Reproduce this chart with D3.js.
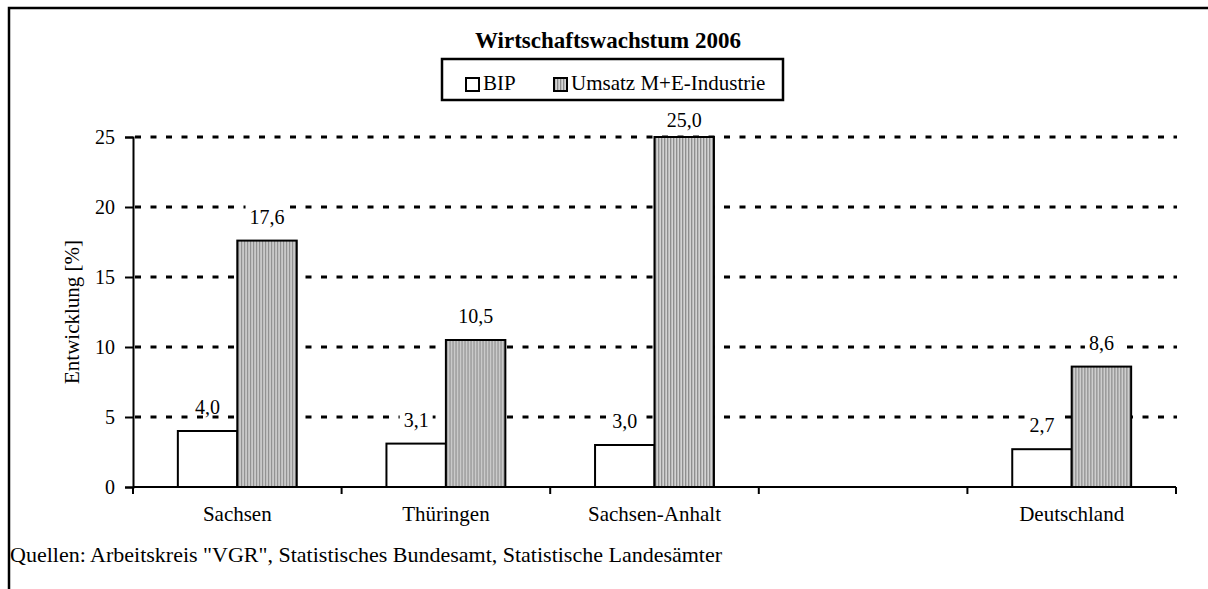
<!DOCTYPE html>
<html>
  <head>
    <meta charset="utf-8" />
    <script src="https://cdnjs.cloudflare.com/ajax/libs/d3/7.8.5/d3.min.js"></script>
    <style>
      body { margin: 0; background: #fff; }
      text { font-family: "Liberation Serif", "Times New Roman", serif; fill: #000; }
    </style>
  </head>

  <body>
    <svg width="1208" height="589"></svg>

    <script type="text/javascript">
      // data
      var categories = ["Sachsen", "Thüringen", "Sachsen-Anhalt", "", "Deutschland"];
      var seriesNames = ["BIP", "Umsatz M+E-Industrie"];
      var bipValues = [4.0, 3.1, 3.0, null, 2.7];
      var umsatzValues = [17.6, 10.5, 25.0, null, 8.6];
      var yTicks = [0, 5, 10, 15, 20, 25];

      var svg = d3.select("svg");
      var serif = '"Liberation Serif", "Times New Roman", serif';

      var plotLeft = 133,
        plotRight = 1176,
        plotTop = 137,
        plotBottom = 487;

      var x0 = d3
        .scaleBand()
        .domain(categories)
        .range([plotLeft, plotRight])
        .paddingInner(0.43)
        .paddingOuter(0.215);

      var x1 = d3
        .scaleBand()
        .domain(seriesNames)
        .range([0, x0.bandwidth()]);

      var y = d3
        .scaleLinear()
        .domain([0, d3.max(yTicks)])
        .range([plotBottom, plotTop]);

      // stripe pattern for the second series
      var defs = svg.append("defs");
      var pat = defs
        .append("pattern")
        .attr("id", "stripes")
        .attr("patternUnits", "userSpaceOnUse")
        .attr("width", 3)
        .attr("height", 10);
      pat.append("rect").attr("width", 3).attr("height", 10).attr("fill", "#d4d4d4");
      pat.append("rect").attr("width", 1.3).attr("height", 10).attr("fill", "#8a8a8a");

      // outer frame (only left and top edges are visible)
      svg
        .append("path")
        .attr("d", "M9,589V8H1208")
        .attr("fill", "none")
        .attr("stroke", "#000")
        .attr("stroke-width", 2.5);

      // gridlines
      svg
        .append("g")
        .selectAll("line")
        .data(yTicks.filter((d) => d > 0))
        .enter()
        .append("line")
        .attr("x1", plotLeft + 2)
        .attr("x2", plotRight + 1)
        .attr("y1", (d) => y(d))
        .attr("y2", (d) => y(d))
        .attr("stroke", "#000")
        .attr("stroke-width", 3)
        .attr("stroke-dasharray", "6 9.5");

      // bars
      var rows = categories.map((c, i) => {
        return { cat: c, vals: [bipValues[i], umsatzValues[i]] };
      });
      var present = (d) =>
        d.vals
          .map((v, j) => ({ name: seriesNames[j], v: v }))
          .filter((e) => e.v != null);

      var groups = svg
        .append("g")
        .selectAll("g")
        .data(rows)
        .enter()
        .append("g")
        .attr("transform", (d) => "translate(" + x0(d.cat) + ",0)");

      groups
        .selectAll("rect")
        .data(present)
        .enter()
        .append("rect")
        .attr("x", (d) => x1(d.name))
        .attr("y", (d) => y(d.v))
        .attr("width", x1.bandwidth())
        .attr("height", (d) => plotBottom - y(d.v))
        .attr("fill", (d) => (d.name === seriesNames[0] ? "#fff" : "url(#stripes)"))
        .attr("stroke", "#000")
        .attr("stroke-width", 2);

      // value labels, each on a white box that hides the gridline behind it
      var fmt = (v) => d3.format(".1f")(v).replace(".", ",");
      var labels = groups
        .selectAll("g.lab")
        .data(present)
        .enter()
        .append("g")
        .attr("class", "lab")
        .attr("transform", (d) => {
          var base = Math.max(y(d.v) - 17, plotTop - 10);
          return "translate(" + (x1(d.name) + x1.bandwidth() / 2) + "," + base + ")";
        });

      labels.append("rect").attr("fill", "#fff");

      labels
        .append("text")
        .attr("text-anchor", "middle")
        .attr("font-size", 20)
        .text((d) => fmt(d.v));

      labels.each(function () {
        var g = d3.select(this);
        var w = g.select("text").node().getComputedTextLength() + 8;
        g.select("rect")
          .attr("x", -w / 2)
          .attr("y", -20)
          .attr("width", w)
          .attr("height", 20);
      });

      // y axis
      var yAxis = d3
        .axisLeft(y)
        .tickValues(yTicks)
        .tickSize(8)
        .tickPadding(10);

      var gy = svg
        .append("g")
        .attr("transform", "translate(" + plotLeft + ",0)")
        .call(yAxis);
      gy.attr("font-family", serif).attr("font-size", 20);
      gy.select(".domain").attr("stroke-width", 2);
      gy.selectAll(".tick line").attr("stroke-width", 2);
      gy.selectAll(".tick text").attr("fill", "#000");

      svg
        .append("text")
        .attr("transform", "translate(72," + (plotTop + plotBottom) / 2 + ") rotate(-90)")
        .attr("text-anchor", "middle")
        .attr("dy", "0.35em")
        .attr("font-size", 21)
        .text("Entwicklung [%]");

      // x axis: baseline, ticks between categories, category names
      svg
        .append("line")
        .attr("x1", plotLeft)
        .attr("x2", plotRight)
        .attr("y1", plotBottom)
        .attr("y2", plotBottom)
        .attr("stroke", "#000")
        .attr("stroke-width", 2);

      var bounds = categories.map((c) => x0(c) - (x0.step() * x0.paddingInner()) / 2);
      bounds.push(plotRight);
      svg
        .append("g")
        .selectAll("line")
        .data(bounds)
        .enter()
        .append("line")
        .attr("x1", (d) => d)
        .attr("x2", (d) => d)
        .attr("y1", plotBottom)
        .attr("y2", plotBottom + 7)
        .attr("stroke", "#000")
        .attr("stroke-width", 2);

      svg
        .append("g")
        .selectAll("text")
        .data(categories)
        .enter()
        .append("text")
        .attr("x", (d) => x0(d) + x0.bandwidth() / 2)
        .attr("y", plotBottom + 34)
        .attr("text-anchor", "middle")
        .attr("font-size", 21)
        .text((d) => d);

      // title and legend
      svg
        .append("text")
        .attr("x", 608)
        .attr("y", 48)
        .attr("text-anchor", "middle")
        .attr("font-size", 23)
        .attr("font-weight", "bold")
        .text("Wirtschaftswachstum 2006");

      var legend = svg.append("g").attr("transform", "translate(442,59)");
      legend
        .append("rect")
        .attr("width", 341)
        .attr("height", 41)
        .attr("fill", "#fff")
        .attr("stroke", "#000")
        .attr("stroke-width", 2.5);

      var legendX = [24, 112];
      var items = legend
        .selectAll("g")
        .data(seriesNames)
        .enter()
        .append("g")
        .attr("transform", (d, i) => "translate(" + legendX[i] + ",0)");
      items
        .append("rect")
        .attr("x", 0)
        .attr("y", 19)
        .attr("width", 13)
        .attr("height", 13)
        .attr("fill", (d, i) => (i === 0 ? "#fff" : "url(#stripes)"))
        .attr("stroke", "#000")
        .attr("stroke-width", 2);
      items
        .append("text")
        .attr("x", 17)
        .attr("y", 31)
        .attr("font-size", 21)
        .text((d) => d);

      // source note
      svg
        .append("text")
        .attr("x", 10)
        .attr("y", 562)
        .attr("font-size", 22)
        .text('Quellen: Arbeitskreis "VGR", Statistisches Bundesamt, Statistische Landesämter');
    </script>
  </body>
</html>
